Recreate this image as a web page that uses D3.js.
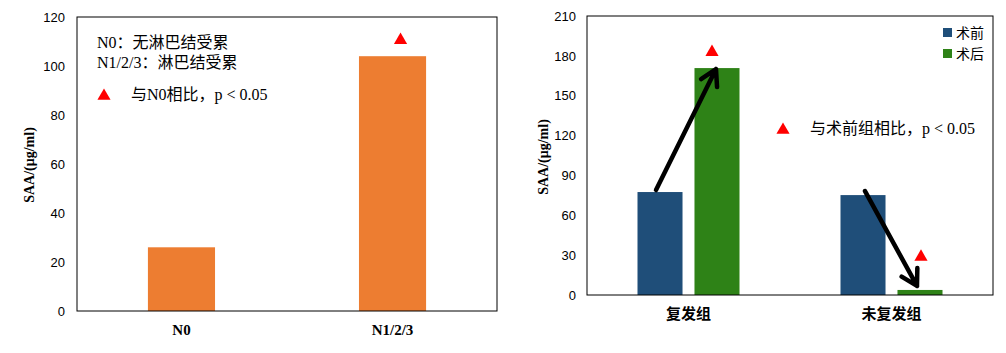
<!DOCTYPE html>
<html>
<head>
<meta charset="utf-8">
<script src="https://cdn.jsdelivr.net/npm/d3@7"></script>
<style>
  body { margin: 0; background: #fff; }
  svg { display: block; }
  .tick text { font-family: "Liberation Sans", "Noto Sans CJK SC", sans-serif; font-size: 13px; fill: #000; }
  .note { font-family: "Liberation Serif", "Noto Sans CJK SC", serif; font-size: 16px; fill: #000; }
  .legtxt { font-family: "Noto Sans CJK SC", sans-serif; font-size: 14px; fill: #000; }
  .cat { font-family: "Liberation Serif", "Noto Sans CJK SC", serif; font-size: 15px; font-weight: bold; fill: #000; }
  .ytitle { font-family: "Liberation Serif", serif; font-size: 14px; font-weight: bold; fill: #000; }
</style>
</head>
<body>
<svg id="chart" width="1006" height="353"></svg>
<script>
// left chart data
const nodeGroups = ["N0", "N1/2/3"];
const nodeSAA = [26, 104];
const leftTicks = [0, 20, 40, 60, 80, 100, 120];
const leftSig = ["N1/2/3"];
const leftNotes = ["N0：无淋巴结受累", "N1/2/3：淋巴结受累"];
const leftSigNote = "与N0相比，p < 0.05";

// right chart data
const relapseGroups = ["复发组", "未复发组"];
const phases = ["术前", "术后"];
const preOp = [77.5, 75.2];
const postOp = [170.8, 3.8];
const rightTicks = [0, 30, 60, 90, 120, 150, 180, 210];
const rightSigNote = "与术前组相比，p < 0.05";

const orange = "#ED7D31", blue = "#1F4E79", green = "#2E8217", red = "#FF0000";
const svg = d3.select("#chart");

function frame(g, x0, x1, y0, y1) {
  g.append("rect").attr("x", x0).attr("y", y0)
    .attr("width", x1 - x0).attr("height", y1 - y0)
    .attr("fill", "none").attr("stroke", "#000").attr("stroke-width", 1);
}

function triangle(g, cx, cy) {
  g.append("path")
    .attr("d", d3.symbol().type(d3.symbolTriangle).size(75)())
    .attr("transform", `translate(${cx},${cy})`)
    .attr("fill", red);
}

// ---------- left chart ----------
const L = { x0: 77, x1: 497, y0: 17, y1: 311 };
const lx = d3.scaleBand().domain(nodeGroups).range([L.x0, L.x1]).paddingInner(0.682).paddingOuter(0.336);
const ly = d3.scaleLinear().domain([0, 120]).range([L.y1, L.y0]);
const left = svg.append("g");

left.append("g").attr("transform", `translate(${L.x0},0)`)
  .call(d3.axisLeft(ly).tickValues(leftTicks).tickSize(0).tickPadding(12))
  .call(g => g.select(".domain").remove());

left.selectAll("rect.bar").data(nodeGroups).enter().append("rect")
  .attr("class", "bar")
  .attr("x", d => lx(d)).attr("width", lx.bandwidth())
  .attr("y", (d, i) => ly(nodeSAA[i]))
  .attr("height", (d, i) => ly(0) - ly(nodeSAA[i]))
  .attr("fill", orange);

frame(left, L.x0, L.x1, L.y0, L.y1);

left.selectAll("text.cat").data(nodeGroups).enter().append("text")
  .attr("class", "cat").attr("text-anchor", "middle")
  .attr("x", d => lx(d) + lx.bandwidth() / 2).attr("y", 335)
  .text(d => d);

leftSig.forEach(d => {
  const i = nodeGroups.indexOf(d);
  triangle(left, lx(d) + lx.bandwidth() / 2 + 8, ly(nodeSAA[i]) - 16);
});

left.selectAll("text.note").data(leftNotes).enter().append("text")
  .attr("class", "note").attr("x", 97).attr("y", (d, i) => 48 + i * 20)
  .text(d => d);
triangle(left, 104, 96);
left.append("text").attr("class", "note").attr("x", 131).attr("y", 100).text(leftSigNote);

left.append("text").attr("class", "ytitle")
  .attr("transform", "translate(34,165) rotate(-90)")
  .attr("text-anchor", "middle").text("SAA/(μg/ml)");

// ---------- right chart ----------
const R = { x0: 587, x1: 993, y0: 16, y1: 295 };
const groupW = 102;
const rx = d3.scaleBand().domain(relapseGroups).range([R.x0, R.x1]);
const rxIn = d3.scaleBand().domain(phases).range([0, groupW]).paddingInner(0.21);
const ry = d3.scaleLinear().domain([0, 210]).range([R.y1, R.y0]);
const colour = d3.scaleOrdinal().domain(phases).range([blue, green]);
const right = svg.append("g");

right.append("g").attr("transform", `translate(${R.x0},0)`)
  .call(d3.axisLeft(ry).tickValues(rightTicks).tickSize(0).tickPadding(11))
  .call(g => g.select(".domain").remove());

const rows = relapseGroups.map((g, i) => ({ group: g, values: [preOp[i], postOp[i]] }));
const groupLeft = g => rx(g) + (rx.bandwidth() - groupW) / 2;
const barCx = (g, p) => groupLeft(g) + rxIn(p) + rxIn.bandwidth() / 2;

const grp = right.selectAll("g.grp").data(rows).enter().append("g")
  .attr("transform", d => `translate(${groupLeft(d.group)},0)`);
grp.selectAll("rect").data(d => phases.map((p, j) => ({ phase: p, value: d.values[j] })))
  .enter().append("rect")
  .attr("x", d => rxIn(d.phase)).attr("width", rxIn.bandwidth())
  .attr("y", d => ry(d.value)).attr("height", d => ry(0) - ry(d.value))
  .attr("fill", d => colour(d.phase));

frame(right, R.x0, R.x1, R.y0, R.y1);

right.selectAll("text.cat").data(relapseGroups).enter().append("text")
  .attr("class", "cat").attr("text-anchor", "middle")
  .attr("x", d => rx(d) + rx.bandwidth() / 2).attr("y", 319)
  .text(d => d);

// arrows from pre-op bar top to post-op bar top
function arrow(x1, y1, x2, y2) {
  const a = Math.atan2(y2 - y1, x2 - x1), len = 18, spread = 0.52;
  const p1 = [x2 - len * Math.cos(a - spread), y2 - len * Math.sin(a - spread)];
  const p2 = [x2 - len * Math.cos(a + spread), y2 - len * Math.sin(a + spread)];
  right.append("path")
    .attr("d", `M${x1},${y1}L${x2},${y2}M${p1}L${x2},${y2}L${p2}`)
    .attr("fill", "none").attr("stroke", "#000").attr("stroke-width", 4.5)
    .attr("stroke-linecap", "round").attr("stroke-linejoin", "round");
}
arrow(barCx("复发组", "术前") - 4, ry(preOp[0]) - 2, barCx("复发组", "术后") - 1, ry(postOp[0]) + 1);
arrow(barCx("未复发组", "术前") + 2, ry(preOp[1]) - 4, barCx("未复发组", "术后") - 3, ry(postOp[1]) - 4);

// significance markers
triangle(right, barCx("复发组", "术后") - 5, ry(postOp[0]) - 16);
triangle(right, barCx("未复发组", "术后") + 1, ry(postOp[1]) - 33);
triangle(right, 783, 130);
right.append("text").attr("class", "note").attr("x", 810).attr("y", 134).text(rightSigNote);

// legend
const leg = right.selectAll("g.leg").data(phases).enter().append("g")
  .attr("transform", (d, i) => `translate(943,${28 + i * 21})`);
leg.append("rect").attr("width", 9).attr("height", 9).attr("fill", d => colour(d));
leg.append("text").attr("class", "legtxt").attr("x", 13).attr("y", 10).text(d => d);

right.append("text").attr("class", "ytitle")
  .attr("transform", "translate(548,157) rotate(-90)")
  .attr("text-anchor", "middle").text("SAA/(μg/ml)");
</script>
</body>
</html>
